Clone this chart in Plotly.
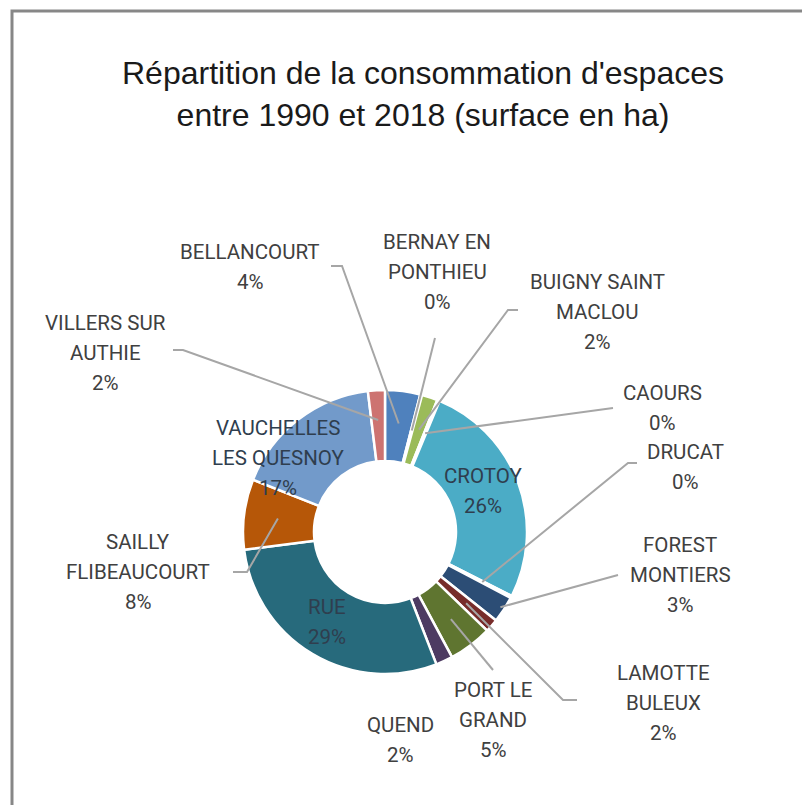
import math
import plotly.graph_objects as go

# Land take per commune, 1990-2018 (hectares)
communes = [
    "BELLANCOURT", "BERNAY EN PONTHIEU", "BUIGNY SAINT MACLOU", "CAOURS", "CROTOY",
    "DRUCAT", "FOREST MONTIERS", "LAMOTTE BULEUX", "PORT LE GRAND", "QUEND", "RUE",
    "SAILLY FLIBEAUCOURT", "VAUCHELLES LES QUESNOY", "VILLERS SUR AUTHIE",
]
surface_ha = [14.5, 0.8, 6.5, 1.0, 95.0, 0.9, 11.0, 5.5, 18.0, 7.0, 105.0, 29.0, 62.0, 7.0]

# Wrapped label text for each commune
label_lines = [
    ["BELLANCOURT"], ["BERNAY EN", "PONTHIEU"], ["BUIGNY SAINT", "MACLOU"], ["CAOURS"],
    ["CROTOY"], ["DRUCAT"], ["FOREST", "MONTIERS"], ["LAMOTTE", "BULEUX"],
    ["PORT LE", "GRAND"], ["QUEND"], ["RUE"], ["SAILLY", "FLIBEAUCOURT"],
    ["VAUCHELLES", "LES QUESNOY"], ["VILLERS SUR", "AUTHIE"],
]

colors = [
    "#4F81BD", "#C0504D", "#9BBB59", "#8064A2", "#4BACC6", "#F79646",
    "#2C4D75", "#772C2A", "#5F7530", "#4D3B62", "#276A7C", "#B65708",
    "#729ACA", "#CD7371",
]

W, H = 802, 805
CX, CY, R = 385.0, 532.0, 142.0  # donut centre / radius in pixels
LINE_H = 30                      # label line spacing in pixels

# label centres (pixels)
label_pos = [
    (250, 267), (437, 272), (597, 312), (662, 408), (483, 491), (685, 467),
    (680, 575), (663, 703), (493, 720), (400, 740), (327, 622), (138, 572),
    (278, 458), (105, 353),
]
inside = {4, 10, 12}

# leader lines: index -> (start point, bend point or None, end radius fraction)
leaders = {
    0: ((331, 266), (342, 266), 0.77),
    1: ((435, 338), None, 0.74),
    2: ((518, 310), (508, 310), 0.76),
    3: ((613, 408), None, 0.75),
    5: ((637, 463), (628, 463), 0.77),
    6: ((618, 575), None, 0.97),
    7: ((577, 700), (563, 700), 0.76),
    8: ((493, 670), None, 0.77),
    11: ((233, 572), (247, 572), 0.76),
    13: ((173, 350), (183, 350), 0.79),
}

total = sum(surface_ha)
pcts = [round(v / total * 100) for v in surface_ha]

fig = go.Figure()
fig.add_trace(go.Pie(
    labels=communes,
    values=surface_ha,
    hole=0.5,
    sort=False,
    direction="clockwise",
    rotation=0,
    marker=dict(colors=colors, line=dict(color="white", width=2.5)),
    textinfo="none",
    hoverinfo="label+value+percent",
    showlegend=False,
    domain=dict(x=[(CX - R) / W, (CX + R) / W], y=[1 - (CY + R) / H, 1 - (CY - R) / H]),
))

# invisible trace to activate the pixel-based overlay axes
fig.add_trace(go.Scatter(x=[0, W], y=[0, H], mode="markers",
                         marker=dict(opacity=0), hoverinfo="skip", showlegend=False))

shapes = []
cum = 0.0
for i, v in enumerate(surface_ha):
    mid = (cum + v / 2) / total
    cum += v
    if i in leaders:
        (sx, sy), bend, frac = leaders[i]
        theta = 2 * math.pi * mid
        ex = CX + frac * R * math.sin(theta)
        ey = CY - frac * R * math.cos(theta)
        pts = [(sx, sy)] + ([bend] if bend else []) + [(ex, ey)]
        path = "M " + " L ".join(f"{x:.1f},{y:.1f}" for x, y in pts)
        shapes.append(dict(type="path", path=path, xref="x", yref="y", layer="above",
                           line=dict(color="#A6A6A6", width=2)))

# chart frame
shapes.append(dict(type="path", path="M 12,805 L 12,11 L 802,11", xref="x", yref="y",
                   line=dict(color="#878787", width=3), layer="above"))

annotations = []
for i, (lines, (x, y)) in enumerate(zip(label_lines, label_pos)):
    rows = lines + [f"{pcts[i]}%"]
    n = len(rows)
    for k, row in enumerate(rows):
        annotations.append(dict(
            x=x, y=y + (k - (n - 1) / 2) * LINE_H, xref="x", yref="y", showarrow=False,
            text=row, xanchor="center", yanchor="middle",
            font=dict(family="Roboto, Liberation Sans", size=20.5,
                      color="#2F3E4E" if i in inside else "#404040"),
        ))

annotations.append(dict(
    x=423, y=94, xref="x", yref="y", showarrow=False,
    text="Répartition de la consommation d'espaces<br>entre 1990 et 2018 (surface en ha)",
    align="center", xanchor="center", yanchor="middle",
    font=dict(family="Liberation Sans, Arial", size=32, color="#1A1A1A"),
))

fig.update_layout(
    width=W, height=H,
    margin=dict(l=0, r=0, t=0, b=0),
    paper_bgcolor="white", plot_bgcolor="white",
    xaxis=dict(range=[0, W], visible=False, fixedrange=True),
    yaxis=dict(range=[H, 0], visible=False, fixedrange=True),
    shapes=shapes,
    annotations=annotations,
)

fig.write_html("out.html")
